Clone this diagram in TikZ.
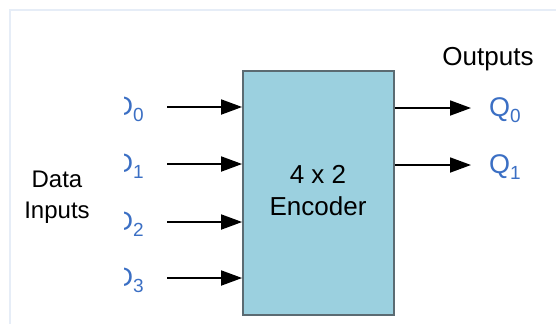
\documentclass[tikz,border=0pt]{standalone}
\usepackage{fontspec}
\setmainfont{Liberation Sans}
\usetikzlibrary{arrows.meta}
\definecolor{boxfill}{HTML}{9BD0DF}
\definecolor{boxline}{HTML}{5B6B72}
\definecolor{lblue}{HTML}{3B6FC4}
\definecolor{frame}{HTML}{E6EDF7}
\newcommand{\subidx}[1]{{\fontsize{19}{20}\selectfont\raisebox{-6pt}{#1}}}
\begin{document}
\begin{tikzpicture}[x=1pt,y=-1pt,
  sig/.style={draw=black, line width=1.8pt, -{Triangle[length=21pt,width=15pt]}},
  lbl/.style={text=lblue, font=\fontsize{27}{28}\selectfont, inner sep=0pt},
  txt/.style={text=black, font=\fontsize{25}{32}\selectfont, align=center, inner sep=0pt}]
\useasboundingbox (0,0) rectangle (556,324);
\fill[white] (0,0) rectangle (556,324);
\draw[frame, line width=1.2pt] (10,324) -- (10,10) -- (556,10);
\node[draw=boxline, fill=boxfill, line width=1.8pt, minimum width=151pt, minimum height=244pt, inner sep=0pt] (enc) at (318.5,193) {};
\node[txt, font=\fontsize{26}{32}\selectfont] (t) at (318,191) {4 x 2\\Encoder};
\node[txt, font=\fontsize{24}{31}\selectfont] (din) at (57,197) {Data\\Inputs};
\node[txt, font=\fontsize{26}{30}\selectfont] (out) at (488,59) {Outputs};
% inputs
\foreach \i/\y in {0/107,1/164,2/222,3/278}{
  \coordinate (s\i) at (167,\y);
  \coordinate (e\i) at (enc.west |- 0,\y);
  \draw[sig] (s\i) -- (e\i);
}
\begin{scope}
\clip (124,80) rectangle (160,300);
\foreach \i/\y in {0/107,1/164,2/222,3/278}{
  \node[lbl, anchor=base west] (d\i) at (113.5,\y+8) {D\subidx{\i}};
}
\end{scope}
% outputs
\foreach \i/\y in {0/108,1/165}{
  \coordinate (o\i) at (enc.east |- 0,\y);
  \coordinate (f\i) at (471,\y);
  \draw[sig] (o\i) -- (f\i);
  \node[lbl, anchor=base west] (q\i) at (489,\y+8) {Q\subidx{\i}};
}
\end{tikzpicture}
\end{document}
